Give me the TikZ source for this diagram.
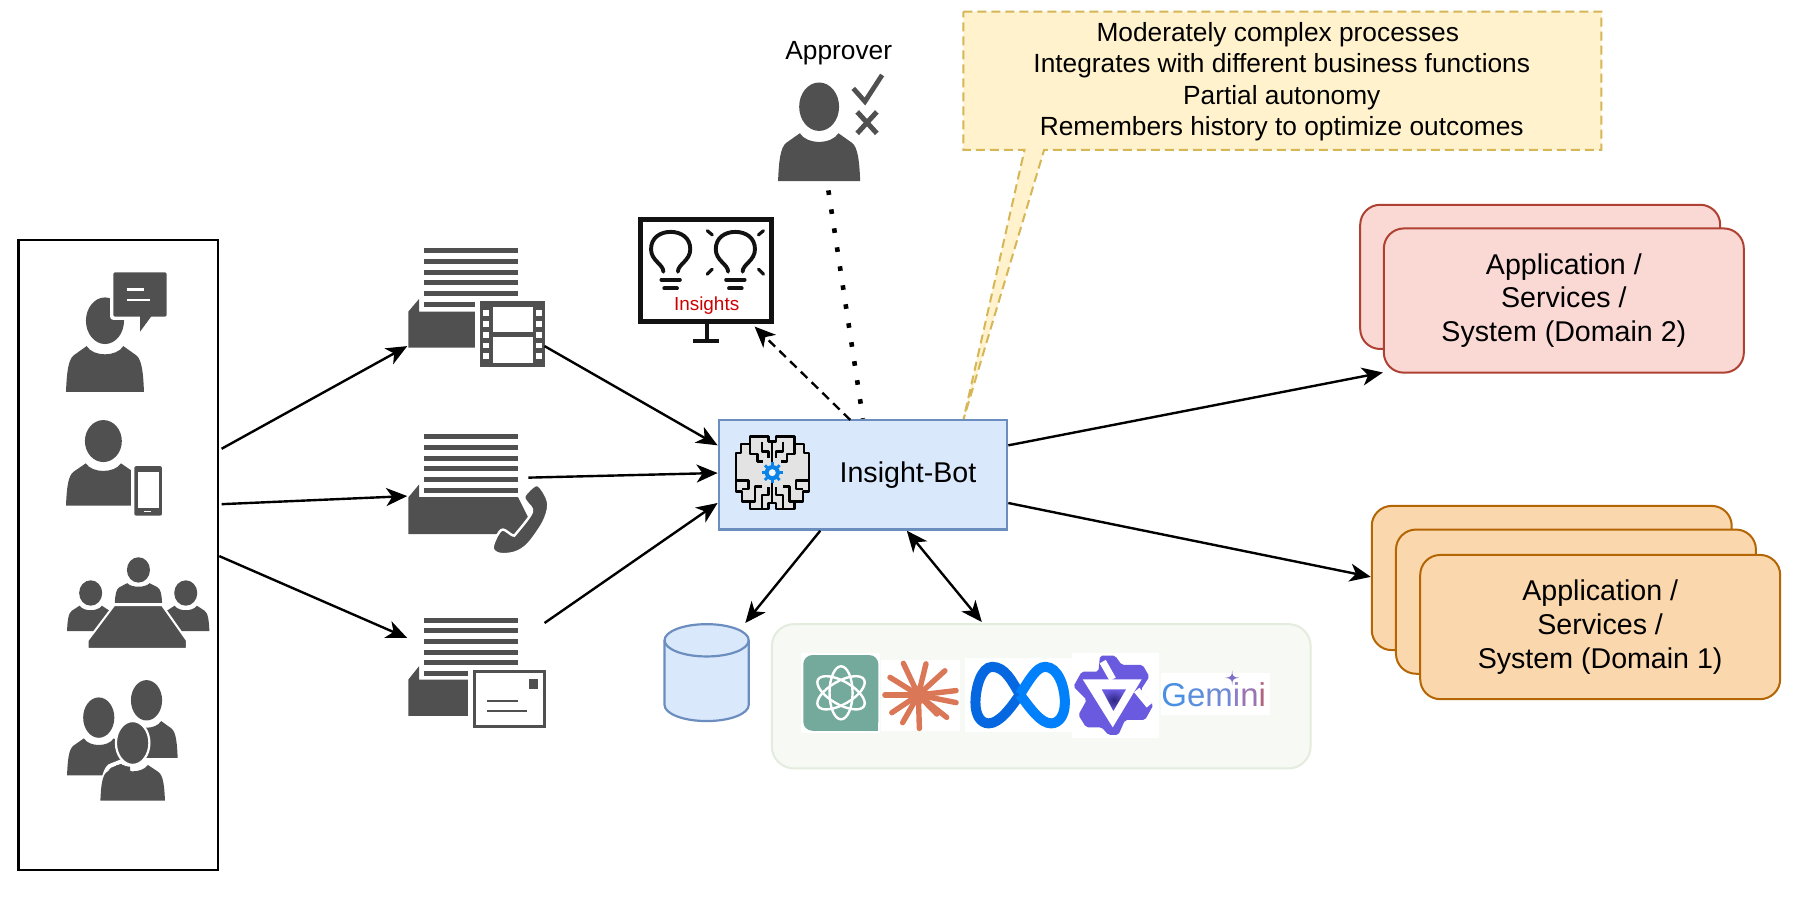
\documentclass[tikz,border=0pt]{standalone}
\usepackage{fontspec}
\setmainfont{Liberation Sans}
\usetikzlibrary{arrows.meta,shapes.geometric,calc}
\definecolor{icon}{HTML}{505050}
\definecolor{botfill}{HTML}{DAE8FC}
\definecolor{botline}{HTML}{6C8EBF}
\definecolor{notefill}{HTML}{FFF2CC}
\definecolor{noteline}{HTML}{D6B656}
\definecolor{redfill}{HTML}{FAD9D5}
\definecolor{redline}{HTML}{AE4132}
\definecolor{orfill}{HTML}{FAD7AC}
\definecolor{orline}{HTML}{B46504}
\definecolor{llmfill}{HTML}{F7F9F5}
\definecolor{llmline}{HTML}{E3ECDD}
\definecolor{gearblue}{HTML}{0A84E8}
\definecolor{gptgreen}{HTML}{74AA9C}
\definecolor{burst}{HTML}{D97757}
\definecolor{metaa}{HTML}{0668E1}
\definecolor{metab}{HTML}{0081FB}
\definecolor{starp}{HTML}{6A5AE0}
\definecolor{stard}{HTML}{2E2580}
\def\ux{1.1537pt}
\def\zz{0.28893*\ux}
\tikzset{
  arr/.style={line width=2.4pt,-{Stealth[length=21pt,width=18pt,inset=6pt]}},
  darr/.style={line width=2.4pt,{Stealth[length=21pt,width=18pt,inset=6pt]}-{Stealth[length=21pt,width=18pt,inset=6pt]}},
  ghost/.style={inner sep=0pt,outer sep=0pt,minimum width=#1*\ux},
  appbox/.style={rounded corners=20pt,line width=2pt,minimum width=312*\ux,minimum height=125*\ux,align=center,inner sep=0pt,font=\fontsize{28.6}{33.7}\selectfont},
}
\newcommand\bust[4]{%
  \begin{scope}[shift={(#1,#2)},x=#3*\ux,y=-#4*\ux]
    \fill[icon] (-1,1) .. controls (-0.98,0.6) and (-0.95,0.3) .. (-0.8,0.2) -- (-0.47,0)
      .. controls (-0.3,0.24) and (0.3,0.24) .. (0.47,0) -- (0.8,0.2) .. controls (0.95,0.3) and (0.98,0.6) .. (1,1) -- cycle;
  \end{scope}}
\newcommand\head[4]{\fill[icon] (#1,#2) ellipse (#3 and #4);}
\newcommand\doclines[2]{% first-y last-line-right
  \foreach \i in {0,...,4} {\fill[icon] (367.8,{#1+\i*9.25}) rectangle (448.7,{#1+\i*9.25+4.3});}
  \fill[icon] (367.8,{#1+5*9.25}) rectangle (#2,{#1+5*9.25+4.5});}
\newcommand\bulb[2]{%
  \begin{scope}[shift={(#1,#2)}]
    \draw[line width=3.9pt,line cap=round,color=black!93] (-6.3,17.5) .. controls (-6.3,11) and (-17,8) .. (-17,-2) .. controls (-17,-12) and (-9,-17) .. (0,-17) .. controls (9,-17) and (17,-12) .. (17,-2) .. controls (17,8) and (6.3,11) .. (6.3,17.5);
    \draw[line width=3.9pt,line cap=round,color=black!93] (-8,24.5) -- (8,24.5) (-5.5,32) -- (5.5,32);
  \end{scope}}
\newcommand\brainhalf[2]{%
  \begin{scope}[shift={(#1,364)},x=#2*\zz,y=-\zz]
    \filldraw[fill=black!11,draw=black,line width=2.3pt,line join=round]
      (157,65) -- (145,65) -- (145,50) -- (90,50) -- (90,72) -- (62,72) -- (62,100) -- (47,100) -- (47,215) -- (65,215) -- (65,245) -- (90,245) -- (90,268) -- (145,268) -- (145,250) -- (157,250);
    \draw[black,line width=2.3pt,line join=round] (157,65) -- (157,125) (157,190) -- (157,250)
      (125,65) -- (125,95) -- (145,95) -- (145,115)
      (90,72) -- (90,102) -- (112,102) -- (112,125) -- (130,125)
      (47,182) -- (85,182) -- (85,208) -- (65,208)
      (90,245) -- (105,245) -- (105,200) -- (125,200)
      (125,268) -- (125,225) -- (145,225) -- (145,200);
  \end{scope}}
\begin{document}
\begin{tikzpicture}[x=\ux,y=-\ux]
\useasboundingbox (0,0) rectangle (1568,781.85);
\fill[white] (0,0) rectangle (1568,781.85);

% callout
\filldraw[fill=notefill,draw=noteline,line width=2pt,dash pattern=on 9pt off 5pt]
  (835,10) -- (1388,10) -- (1388,130) -- (905,130) -- (835,364) -- (888,130) -- (835,130) -- cycle;
\node[align=center,inner sep=0pt,font=\fontsize{26.3}{31.5}\selectfont] (callout) at (1111,70.7)
  {Moderately complex processes\hspace*{8pt}\\Integrates with different business functions\\Partial autonomy\hspace*{8pt}\\Remembers history to optimize outcomes};

% users group
\node[draw=black,line width=2.4pt,minimum width=173*\ux,minimum height=546*\ux,inner sep=0pt] (users) at (102.5,481) {};
% person with bubble
\bust{91}{300}{33.8}{39.6}
\head{91}{278}{16.5}{20.2}
\draw[white,line width=6.5pt,line join=round] (98.2,236) -- (144.5,236) -- (144.5,274.5) -- (98.2,274.5) -- cycle;
\fill[icon,rounded corners=1.5pt] (98.2,236) -- (144.5,236) -- (144.5,274.5) -- (98.2,274.5) -- cycle;
\fill[icon] (121.4,273) -- (121.4,287.5) -- (132,273) -- cycle;
\draw[white,line width=2.5pt] (109.8,250.8) -- (125,250.8) (109.8,260) -- (130,260);
% person with phone
\bust{89.6}{401.6}{32.4}{36.7}
\head{89.6}{382.3}{16}{18.2}
\fill[white] (113.3,398) rectangle (128,442);
\fill[icon,rounded corners=2pt] (116.4,404) rectangle (140.4,447);
\fill[white] (119.3,409.4) rectangle (137.5,440);
\draw[white,line width=1.4pt] (124.8,443.4) -- (131,443.4);
% meeting
\bust{78.6}{525}{20.5}{22}
\bust{161}{525}{20.5}{22}
\head{78.6}{514}{10}{11}
\head{161}{514}{10}{11}
\bust{120}{505.5}{20.5}{17}
\head{120}{494}{10}{11}
\filldraw[fill=icon,draw=white,line width=2pt] (99,524.5) -- (140.5,524.5) -- (162,555) -- (162,562.5) -- (76,562.5) -- (76,555) -- cycle;
% three people
\bust{127}{625}{27}{32}
\head{127}{607}{13.5}{17.5}
\bust{85.6}{640}{27.5}{32}
\head{85.6}{622}{13.5}{17.5}
\draw[white,line width=4pt] (88,694) .. controls (88.5,680) and (90,668) .. (95,664) -- (105,660) .. controls (110,664) and (120,664) .. (125,660) -- (135,664) .. controls (140,668) and (141.5,680) .. (142,694);
\bust{115}{663}{28}{31}
\filldraw[fill=icon,draw=white,line width=2.2pt] (115,644) ellipse (14.5 and 19);

% doc 1
\node[ghost=119,minimum height=104*\ux] (doc1) at (412.5,266) {};
\doclines{215.3}{411.7}
\fill[icon] (354,270) -- (363.2,259.2) -- (363.2,270) -- (411.7,270) -- (411.7,301.4) -- (354,301.4) -- cycle;
\fill[icon] (416,261) rectangle (472.4,318.4);
\foreach \k in {0,...,4} {\fill[white] (418.9,{268.7+\k*9.39}) rectangle (424.1,{273.8+\k*9.39}); \fill[white] (464.3,{268.7+\k*9.39}) rectangle (469.5,{273.8+\k*9.39});}
\fill[white] (427,265.8) rectangle (461.7,287.5);
\fill[white] (427,292.4) rectangle (461.7,314.4);

% doc 2
\node[ghost=120,minimum height=105*\ux] (doc2) at (413,427.5) {};
\doclines{376.5}{449}
\fill[icon] (354,431) -- (363.2,420) -- (363.2,431) -- (449,431) -- (465,463) -- (354,463) -- cycle;
\filldraw[fill=icon,draw=white,line width=2.4pt] plot[smooth cycle,tension=0.55] coordinates {(464.4,420.4) (471,426) (475.3,437.5) (471,452.6) (457.7,471.6) (446,479) (432.8,480) (427,475) (431,464) (436,459) (444.4,464) (447.7,462) (461,444) (456.7,435.6) (454.4,430)};

% doc 3
\node[ghost=120,minimum height=100*\ux] (doc3) at (413,581) {};
\doclines{535.5}{405.5}
\fill[icon] (354,589) -- (363.2,577.5) -- (363.2,589) -- (405.5,589) -- (405.5,620.5) -- (354,620.5) -- cycle;
\filldraw[fill=white,draw=icon,line width=3pt] (411.5,582) rectangle (472,630);
\fill[icon] (458.4,588.5) rectangle (466,597);
\draw[icon,line width=2pt] (422,608) -- (449.4,608) (422,616) -- (457,616);

% approver
\node[ghost=92,minimum height=95*\ux] (approver) at (720,109.5) {};
\node[inner sep=0pt,font=\fontsize{26.3}{31.5}\selectfont] (approverlabel) at (727,46) {Approver};
\bust{710}{115.5}{35.6}{41.5}
\head{710}{92.5}{17.3}{21}
\draw[icon,line width=4.8pt] (739.6,76.6) -- (749.7,88) -- (764.6,65);
\draw[icon,line width=5pt] (743,97) -- (760,115.6) (760,97) -- (743,115.6);

% monitor
\node[draw=black!93,fill=white,line width=4.8pt,minimum width=114*\ux,minimum height=89*\ux,inner sep=0pt] (mon) at (612,234.5) {};
\draw[black!93,line width=4.2pt] (612.5,281) -- (612.5,295) (600.7,295.6) -- (623.5,295.6);
\bulb{581.3}{218}
\bulb{637.4}{218}
\begin{scope}[shift={(637.4,218)}]
  \draw[black!93,line width=3.2pt,line cap=round] (-24.3,-18) -- (-20,-14.4) (24.3,-18) -- (20,-14.4) (-24.3,19.6) -- (-20,15.3) (24.3,19.6) -- (20,15.3);
\end{scope}
\node[inner sep=0pt,text=red!80!black,font=\fontsize{18.9}{22}\selectfont] (insightslabel) at (612.5,265) {Insights};

% apps domain 2
\node[appbox,draw=redline,fill=redfill] (app2b) at (1335,240) {};
\node[appbox,draw=redline,fill=redfill] (app2) at (1355.5,260.5) {\rule{0pt}{1.5pt}Application /\\Services /\\System (Domain 2)};
% apps domain 1
\node[appbox,draw=orline,fill=orfill] (app1c) at (1345,501) {};
\node[appbox,draw=orline,fill=orfill] (app1b) at (1366,521.5) {};
\node[appbox,draw=orline,fill=orfill] (app1) at (1387,543.5) {Application /\\Services /\\System (Domain 1)};

% llm group
\node[draw=llmline,fill=llmfill,line width=2pt,rounded corners=22pt,minimum width=467*\ux,minimum height=125*\ux,inner sep=0pt] (llm) at (902.5,603.5) {};
% gpt
\fill[white] (694,566) rectangle (763,635);
\fill[gptgreen,rounded corners=9pt] (696.3,567.8) rectangle (761.3,633.4);
\fill[gptgreen] (745,615) rectangle (761.3,633.4);
\foreach \a in {30,90,150} {\draw[white,line width=2.4pt,rotate around={\a:(729,600.5)}] (729,600.5) ellipse (23 and 10);}
% burst
\fill[white] (763.4,572) rectangle (832,633.4);
\fill[burst] (796,602.4) circle (8);
\foreach \tx/\ty in {-13/-27.5,6.6/-27,23/-21,32.7/-3.8,32.7/6.6,24.6/19.4,16/16.5,0.9/29,-13.6/24,-23/15.3,-29/0,-24.6/-15.3} {\draw[burst,line width=5.4pt,line cap=round] (796,602.4) -- ++(\tx,\ty);}
% meta
\fill[white] (836.5,570.4) rectangle (929,634.5);
\draw[metaa,line width=10pt] (884,602) .. controls (877,590) and (871,578) .. (860,578) .. controls (851,578) and (845.5,595) .. (845.5,609) .. controls (845.5,620) and (850,627) .. (857,627) .. controls (866,627) and (876,614) .. (884,602);
\draw[metab,line width=10pt] (884,602) .. controls (892,590) and (898,578) .. (906,578) .. controls (917,578) and (923,595) .. (923,609) .. controls (923,620) and (918,627) .. (911,627) .. controls (902,627) and (893,614) .. (884,602);
% star
\fill[white] (929,566) rectangle (1005,640);
\begin{scope}[shift={(684.8,554.7)},x=\zz,y=-\zz]
  \fill[starp,rounded corners=2pt] (930,47) -- (975,47) -- (995,75) -- (1058,75) -- (1078,110) -- (1052,150) -- (1090,195) -- (1065,240) -- (1005,240) -- (985,285) -- (955,285) -- (935,262) -- (888,262) -- (865,225) -- (890,180) -- (850,140) -- (875,95) -- (925,95) -- cycle;
  \fill[white] (878,118) -- (1055,118) -- (968,262) -- cycle;
  \draw[white,line width=7pt] (938,65) -- (968,118) (1040,150) -- (1078,196);
  \shade[inner color=stard,outer color=starp] (935,148) -- (1008,148) -- (970,213) -- cycle;
\end{scope}
% gemini
\fill[white] (1006.5,583) rectangle (1100.5,620);
\node[inner sep=0pt,font=\fontsize{33}{33}\selectfont] (gemini) at (1052,602.5) {\textcolor[HTML]{4A90E2}{G}\textcolor[HTML]{5A8FDD}{e}\textcolor[HTML]{6F8BD6}{m}\textcolor[HTML]{8A7FC8}{i}\textcolor[HTML]{9A74B0}{n}\textcolor[HTML]{B0657F}{i}};
\fill[color={rgb,255:red,125;green,110;blue,200}] (1068,581) .. controls (1068,586) and (1069,587) .. (1074,587.5) .. controls (1069,588) and (1068,589) .. (1068,594) .. controls (1068,589) and (1067,588) .. (1062,587.5) .. controls (1067,587) and (1068,586) .. (1068,581) -- cycle;

% database
\node[ghost=73,minimum height=84*\ux] (db) at (612.5,583) {};
\filldraw[fill=botfill,draw=botline,line width=2.2pt] (576,555) arc[start angle=180,end angle=0,x radius=36.5,y radius=-14] -- (649,611) arc[start angle=0,end angle=-180,x radius=36.5,y radius=-14] -- cycle;
\draw[botline,line width=2.2pt] (576,555) arc[start angle=180,end angle=360,x radius=36.5,y radius=-14];

% bot
\node[draw=botline,fill=botfill,line width=2.3pt,minimum width=250*\ux,minimum height=95*\ux,inner sep=0pt,font=\fontsize{28.6}{33}\selectfont] (bot) at (748,411.5) {\hspace*{90pt}Insight-Bot};
% brain
\brainhalf{624.1}{1}
\brainhalf{714.7}{-1}
\foreach \a in {0,45,...,315} {\draw[gearblue,line width=2.8pt] (669.4,409.7) -- ++(\a:9);}
\fill[gearblue] (669.4,409.7) circle (6.6);
\fill[white!70!botfill] (669.4,409.7) circle (3);

% connectors
\draw[arr] ([shift={(2,-92)}]users.east) -- ([shift={(0,34)}]doc1.west);
\draw[arr] ([shift={(2,-44)}]users.east) -- ([shift={(0,2.5)}]doc2.west);
\draw[arr] ([shift={(0,1)}]users.east) -- ([shift={(0,-28)}]doc3.west);
\draw[arr] ([shift={(0,34)}]doc1.east) -- ([shift={(0,-25.5)}]bot.west);
\draw[arr] ([shift={(-15,-13.5)}]doc2.east) -- ([shift={(0,-1.5)}]bot.west);
\draw[arr] ([shift={(-1,-41)}]doc3.east) -- ([shift={(0,24.5)}]bot.west);
\draw[arr] ([shift={(0,-25.5)}]bot.east) -- ([shift={(0,-1)}]app2.south west);
\draw[arr] ([shift={(0,24.5)}]bot.east) -- ([shift={(0,-1)}]app1c.west);
\draw[arr] ([shift={(-37,0)}]bot.south) -- ([shift={(33.5,-1)}]db.north);
\draw[darr] ([shift={(38,0)}]bot.south) -- ([shift={(-51.5,-1)}]llm.north);
\draw[arr,dash pattern=on 9pt off 6pt] ([shift={(-11,1)}]bot.north) -- ([shift={(-17,2)}]mon.south east);
\draw[line width=4.6pt,dash pattern=on 4.6pt off 14.6pt] ([shift={(-2,8)}]approver.south) -- (bot.north);
\end{tikzpicture}
\end{document}
